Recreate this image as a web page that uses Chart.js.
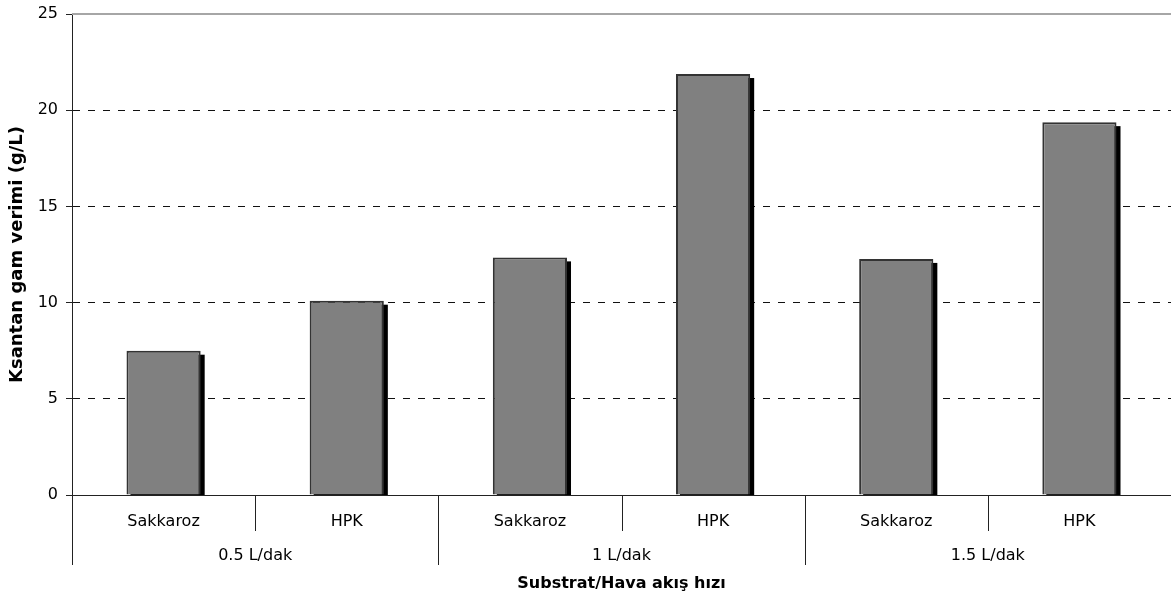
<!DOCTYPE html>
<html>
<head>
<meta charset="utf-8">
<script src="https://cdn.jsdelivr.net/npm/chart.js@4/dist/chart.umd.min.js"></script>
<style>
  html, body { margin: 0; padding: 0; background: #fff; }
  #wrap { width: 1171px; height: 592px; position: relative; }
</style>
</head>
<body>
<div id="wrap"><canvas id="c" width="1171" height="592"></canvas></div>
<script>
const categories = ['Sakkaroz', 'HPK', 'Sakkaroz', 'HPK', 'Sakkaroz', 'HPK'];
const groups = ['0.5 L/dak', '1 L/dak', '1.5 L/dak'];
const yields = [7.5, 10.1, 12.35, 21.88, 12.27, 19.38];
const yTicks = [0, 5, 10, 15, 20, 25];
const yTitle = 'Ksantan gam verimi (g/L)';
const xTitle = 'Substrat/Hava akış hızı';

const FONT = 'DejaVu Sans, Verdana, sans-serif';

const decor = {
  id: 'decor',
  beforeDatasetsDraw(chart) {
    const ctx = chart.ctx, ca = chart.chartArea;
    ctx.save();
    ctx.beginPath();
    ctx.rect(ca.left, ca.top, ca.right - ca.left, ca.bottom - ca.top);
    ctx.clip();
    ctx.fillStyle = '#000';
    chart.getDatasetMeta(0).data.forEach(b => {
      const w = b.width;
      ctx.fillRect(b.x - w / 2 + 4, b.y + 4, w, b.base - b.y);
    });
    ctx.restore();
  },
  afterDraw(chart) {
    const ctx = chart.ctx, ca = chart.chartArea;
    const xs = chart.scales.x, ys = chart.scales.y;
    const n = categories.length;
    const per = n / groups.length;
    const step = xs.getPixelForTick(1) - xs.getPixelForTick(0);
    ctx.save();
    // top line
    const yTop = Math.round(ys.getPixelForValue(25));
    ctx.strokeStyle = '#a6a6a6';
    ctx.lineWidth = 2;
    ctx.beginPath();
    ctx.moveTo(ca.left, yTop);
    ctx.lineTo(ca.right, yTop);
    ctx.stroke();
    // separators
    ctx.strokeStyle = '#222';
    ctx.lineWidth = 1;
    for (let i = 0; i <= n; i++) {
      const x = Math.round(xs.getPixelForTick(Math.min(i, n - 1)) + (i < n ? -step / 2 : step / 2)) + 0.5;
      const len = (i % per === 0) ? 70 : 36;
      ctx.beginPath();
      ctx.moveTo(x, ca.bottom);
      ctx.lineTo(x, ca.bottom + len);
      ctx.stroke();
    }
    // group labels
    ctx.fillStyle = '#000';
    ctx.font = '16px ' + FONT;
    ctx.textAlign = 'center';
    ctx.textBaseline = 'middle';
    groups.forEach((g, gi) => {
      const a = xs.getPixelForTick(gi * per) - step / 2;
      const b = xs.getPixelForTick(gi * per + per - 1) + step / 2;
      ctx.fillText(g, (a + b) / 2, ca.bottom + 61);
    });
    ctx.restore();
  }
};

new Chart(document.getElementById('c'), {
  type: 'bar',
  data: {
    labels: categories,
    datasets: [{
      data: yields,
      backgroundColor: '#808080',
      borderColor: '#333',
      borderWidth: 2,
      categoryPercentage: 1,
      barPercentage: 0.405
    }]
  },
  options: {
    responsive: false,
    animation: false,
    layout: { padding: { top: 14, right: 0, bottom: 0, left: 0 } },
    plugins: { legend: { display: false }, tooltip: { enabled: false } },
    scales: {
      x: {
        type: 'category',
        offset: true,
        grid: { display: false, drawTicks: false },
        border: { display: true, color: '#222', width: 1 },
        ticks: { color: '#000', font: { family: FONT, size: 16 }, padding: 17, maxRotation: 0, autoSkip: false },
        title: { display: true, text: xTitle, color: '#000', font: { family: FONT, size: 16, weight: 'bold', lineHeight: 1.0 }, padding: { top: 0, bottom: 0 } },
        afterFit(s) { s.height = 97; s.paddingLeft = 0; s.paddingRight = 0; }
      },
      y: {
        min: 0, max: 25,
        afterBuildTicks(s) { s.ticks = yTicks.map(v => ({ value: v })); },
        grid: {
          color: c => (c.tick && (c.tick.value === 0 || c.tick.value === 25)) ? 'rgba(0,0,0,0)' : '#111',
          tickColor: '#222',
          tickLength: 6,
          drawTicks: true
        },
        border: { display: true, color: '#222', width: 1, dash: [7, 8] },
        ticks: { color: '#000', font: { family: FONT, size: 16 }, padding: 8 },
        title: { display: true, text: yTitle, color: '#000', font: { family: FONT, size: 18, weight: 'bold' }, padding: { top: 7, bottom: 0 } },
        afterFit(s) { s.width = 72; s.paddingTop = 0; s.paddingBottom = 0; }
      }
    }
  },
  plugins: [decor]
});
</script>
</body>
</html>
